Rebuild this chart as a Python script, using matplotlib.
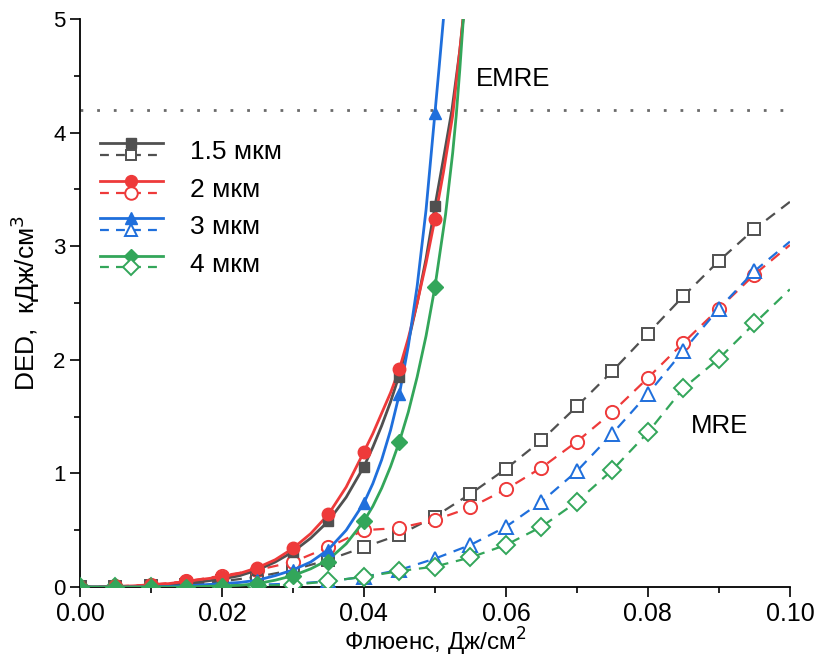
"""DED vs fluence for several spot sizes (EMRE / MRE regimes)."""
import matplotlib
matplotlib.use("Agg")
import matplotlib.pyplot as plt
from matplotlib.lines import Line2D
from matplotlib.legend_handler import HandlerBase
from matplotlib.ticker import MultipleLocator

# ---- data ----
labels = ["1.5 мкм", "2 мкм", "3 мкм", "4 мкм"]
colors = ["#505050", "#ee3a3a", "#1f6fdc", "#33a65a"]
markers = ["s", "o", "^", "D"]

# solid (EMRE) markers
x_solid_mk = [0.0, 0.005, 0.01, 0.015, 0.02, 0.025, 0.03, 0.035, 0.04, 0.045, 0.05]
gray_solid_mk = [0, 0.0, 0.01, 0.03, 0.07, 0.15, 0.31, 0.58, 1.06, 1.85, 3.35]
red_solid_mk = [0, 0.005, 0.02, 0.05, 0.09, 0.17, 0.34, 0.64, 1.19, 1.92, 3.24]
blue_solid_mk = [0, 0, 0, 0.01, 0.03, 0.06, 0.15, 0.33, 0.74, 1.70, 4.17]
green_solid_mk = [0, 0, 0, 0.0, 0.01, 0.03, 0.10, 0.22, 0.58, 1.28, 2.64]

# solid (EMRE) smooth curves, read at finer steps
x_curve = [0.0, 0.0025, 0.005, 0.0075, 0.01, 0.0125, 0.015, 0.0175, 0.02, 0.0225,
           0.025, 0.0275, 0.03, 0.0325, 0.035, 0.0375, 0.04, 0.04125, 0.0425,
           0.04375, 0.045, 0.04625, 0.0475, 0.04875, 0.05]
gray_curve = [0, 0, 0, 0.005, 0.01, 0.02, 0.03, 0.05, 0.07, 0.10, 0.15,
              0.22, 0.31, 0.43, 0.58, 0.79, 1.06, 1.23, 1.42, 1.63, 1.87,
              2.16, 2.50, 2.89, 3.35]
red_curve = [0, 0.002, 0.005, 0.01, 0.02, 0.03, 0.05, 0.07, 0.09, 0.12, 0.17,
             0.24, 0.34, 0.47, 0.64, 0.88, 1.19, 1.35, 1.53, 1.71, 1.92,
             2.19, 2.50, 2.85, 3.24]
blue_curve = [0, 0, 0, 0, 0, 0.005, 0.01, 0.02, 0.03, 0.04, 0.06,
              0.10, 0.15, 0.22, 0.33, 0.50, 0.74, 0.91, 1.12, 1.38, 1.70,
              2.12, 2.65, 3.32, 4.17]
green_curve = [0, 0, 0, 0, 0, 0, 0, 0.005, 0.01, 0.015, 0.03,
               0.06, 0.10, 0.16, 0.24, 0.38, 0.58, 0.71, 0.87, 1.06, 1.28,
               1.54, 1.85, 2.21, 2.64]
gray_tail_x = [0.0512, 0.0524, 0.0535, 0.0545]
gray_tail_y = [3.77, 4.20, 4.72, 5.30]
red_tail_x = [0.0512, 0.0525, 0.0536, 0.0545]
red_tail_y = [3.65, 4.15, 4.78, 5.35]
blue_tail_x = [0.0506, 0.0512, 0.0518]
blue_tail_y = [4.58, 5.00, 5.45]
green_tail_x = [0.0515, 0.0525, 0.053, 0.0535, 0.054, 0.0545]
green_tail_y = [3.28, 3.82, 4.15, 4.55, 5.00, 5.50]

# dashed (MRE)
x_dash = [0.0, 0.005, 0.01, 0.015, 0.02, 0.025, 0.03, 0.035, 0.04, 0.045, 0.05,
          0.055, 0.06, 0.065, 0.07, 0.075, 0.08, 0.085, 0.09, 0.095, 0.1]
gray_dash = [0, 0, 0.01, 0.02, 0.05, 0.09, 0.15, 0.24, 0.35, 0.46, 0.62,
             0.82, 1.04, 1.29, 1.59, 1.90, 2.23, 2.56, 2.87, 3.15, 3.39]
red_dash = [0, 0.005, 0.02, 0.05, 0.10, 0.15, 0.22, 0.35, 0.50, 0.52, 0.59,
            0.70, 0.86, 1.05, 1.28, 1.54, 1.84, 2.15, 2.45, 2.75, 3.01]
blue_dash = [0, 0, 0, 0, 0.01, 0.02, 0.03, 0.05, 0.09, 0.15, 0.25,
             0.37, 0.53, 0.75, 1.02, 1.35, 1.70, 2.08, 2.45, 2.78, 3.04]
green_dash = [0, 0, 0, 0, 0, 0.01, 0.02, 0.05, 0.09, 0.14, 0.18,
              0.26, 0.37, 0.53, 0.75, 1.03, 1.36, 1.75, 2.01, 2.32, 2.62]

emre_level = 4.2

solid_mk = [gray_solid_mk, red_solid_mk, blue_solid_mk, green_solid_mk]
curves = [gray_curve, red_curve, blue_curve, green_curve]
tails = [(gray_tail_x, gray_tail_y), (red_tail_x, red_tail_y),
         (blue_tail_x, blue_tail_y), (green_tail_x, green_tail_y)]
dashes = [gray_dash, red_dash, blue_dash, green_dash]

SOLID_MS = [7, 9, 9, 8]
OPEN_MS = [8, 9.5, 9.5, 9]
DASH_STYLE = (0, (5, 3.5))


class PairHandler(HandlerBase):
    """Two-row legend handle: solid line on top, dashed below."""

    def create_artists(self, legend, orig_handle, xdescent, ydescent,
                       width, height, fontsize, trans):
        out = []
        x0, x1 = -xdescent, width - xdescent
        ys = [height / 2 - ydescent + 0.26 * fontsize,
              height / 2 - ydescent - 0.18 * fontsize]
        for h, y in zip(orig_handle, ys):
            ln = Line2D([x0, x1], [y, y], color=h.get_color(),
                        linestyle=h.get_linestyle(), linewidth=h.get_linewidth())
            if h.get_linestyle() != "-":
                ln.set_dashes((4, 3.2))
            mk = Line2D([(x0 + x1) / 2], [y], linestyle="none",
                        marker=h.get_marker(), markersize=h.get_markersize() * 0.95,
                        markerfacecolor=h.get_markerfacecolor(),
                        markeredgecolor=h.get_markeredgecolor(),
                        markeredgewidth=h.get_markeredgewidth())
            for a in (ln, mk):
                a.set_transform(trans)
                out.append(a)
        return out


plt.rcParams["font.family"] = ["Liberation Sans", "DejaVu Sans"]

fig = plt.figure(figsize=(8.16, 6.66), dpi=100)
ax = fig.add_axes([0.098, 0.1186, 0.870, 0.853])

handles = []
for i in range(4):
    c = colors[i]
    # MRE dashed
    ax.plot(x_dash, dashes[i], color=c, linestyle=DASH_STYLE, linewidth=1.6,
            zorder=2)
    ax.plot(x_dash[:-1], dashes[i][:-1], linestyle="none", marker=markers[i],
            markersize=OPEN_MS[i], markerfacecolor="white",
            markeredgecolor=c, markeredgewidth=1.4, zorder=3, color=c)
    handles.append(Line2D([], [], color=c, linestyle="--", linewidth=1.6,
                          marker=markers[i], markersize=OPEN_MS[i],
                          markerfacecolor="white", markeredgecolor=c,
                          markeredgewidth=1.4))

solid_handles = []
for i in range(4):
    c = colors[i]
    tx, ty = tails[i]
    ax.plot(x_curve + tx, curves[i] + ty, color=c, linewidth=2.0, zorder=4)
    ax.plot(x_solid_mk, solid_mk[i], linestyle="none", marker=markers[i],
            markersize=SOLID_MS[i], color=c, zorder=5)
    solid_handles.append(Line2D([], [], color=c, linestyle="-", linewidth=2.0,
                                marker=markers[i], markersize=SOLID_MS[i],
                                markerfacecolor=c, markeredgecolor=c,
                                markeredgewidth=1.0))

ax.axhline(emre_level, color="#6a6a6a", linestyle=(0, (1, 5)), linewidth=2.0,
           zorder=1)

ax.text(0.0557, 4.47, "EMRE", fontsize=18.5, ha="left", va="center")
ax.text(0.086, 1.42, "MRE", fontsize=18.5, ha="left", va="center")

pairs = [(solid_handles[i], handles[i]) for i in range(4)]
ax.legend(pairs, labels, handler_map={tuple: PairHandler()},
          loc="upper left", bbox_to_anchor=(0.013, 0.808), frameon=False,
          fontsize=19, handlelength=2.39, handleheight=1.0,
          handletextpad=1.02, labelspacing=0.44, borderaxespad=0.0)

ax.set_xlim(0, 0.1)
ax.set_ylim(0, 5)
ax.xaxis.set_major_locator(MultipleLocator(0.02))
ax.xaxis.set_minor_locator(MultipleLocator(0.01))
ax.yaxis.set_major_locator(MultipleLocator(1))
ax.yaxis.set_minor_locator(MultipleLocator(0.5))
ax.xaxis.set_major_formatter(lambda v, p: f"{v:.2f}")

for s in ("top", "right"):
    ax.spines[s].set_visible(False)
for s in ("left", "bottom"):
    ax.spines[s].set_linewidth(1.3)

ax.tick_params(axis="both", which="major", direction="out", length=7, width=1.2)
ax.tick_params(axis="both", which="minor", direction="out", length=4, width=1.2)
ax.tick_params(axis="y", labelsize=16)
ax.tick_params(axis="x", labelsize=18)

ax.set_xlabel("Флюенс, Дж/см$^2$", fontsize=17.5, labelpad=0)
ax.set_ylabel("DED,  кДж/см$^3$", fontsize=19, labelpad=8)

fig.savefig("out.png", dpi=100)
